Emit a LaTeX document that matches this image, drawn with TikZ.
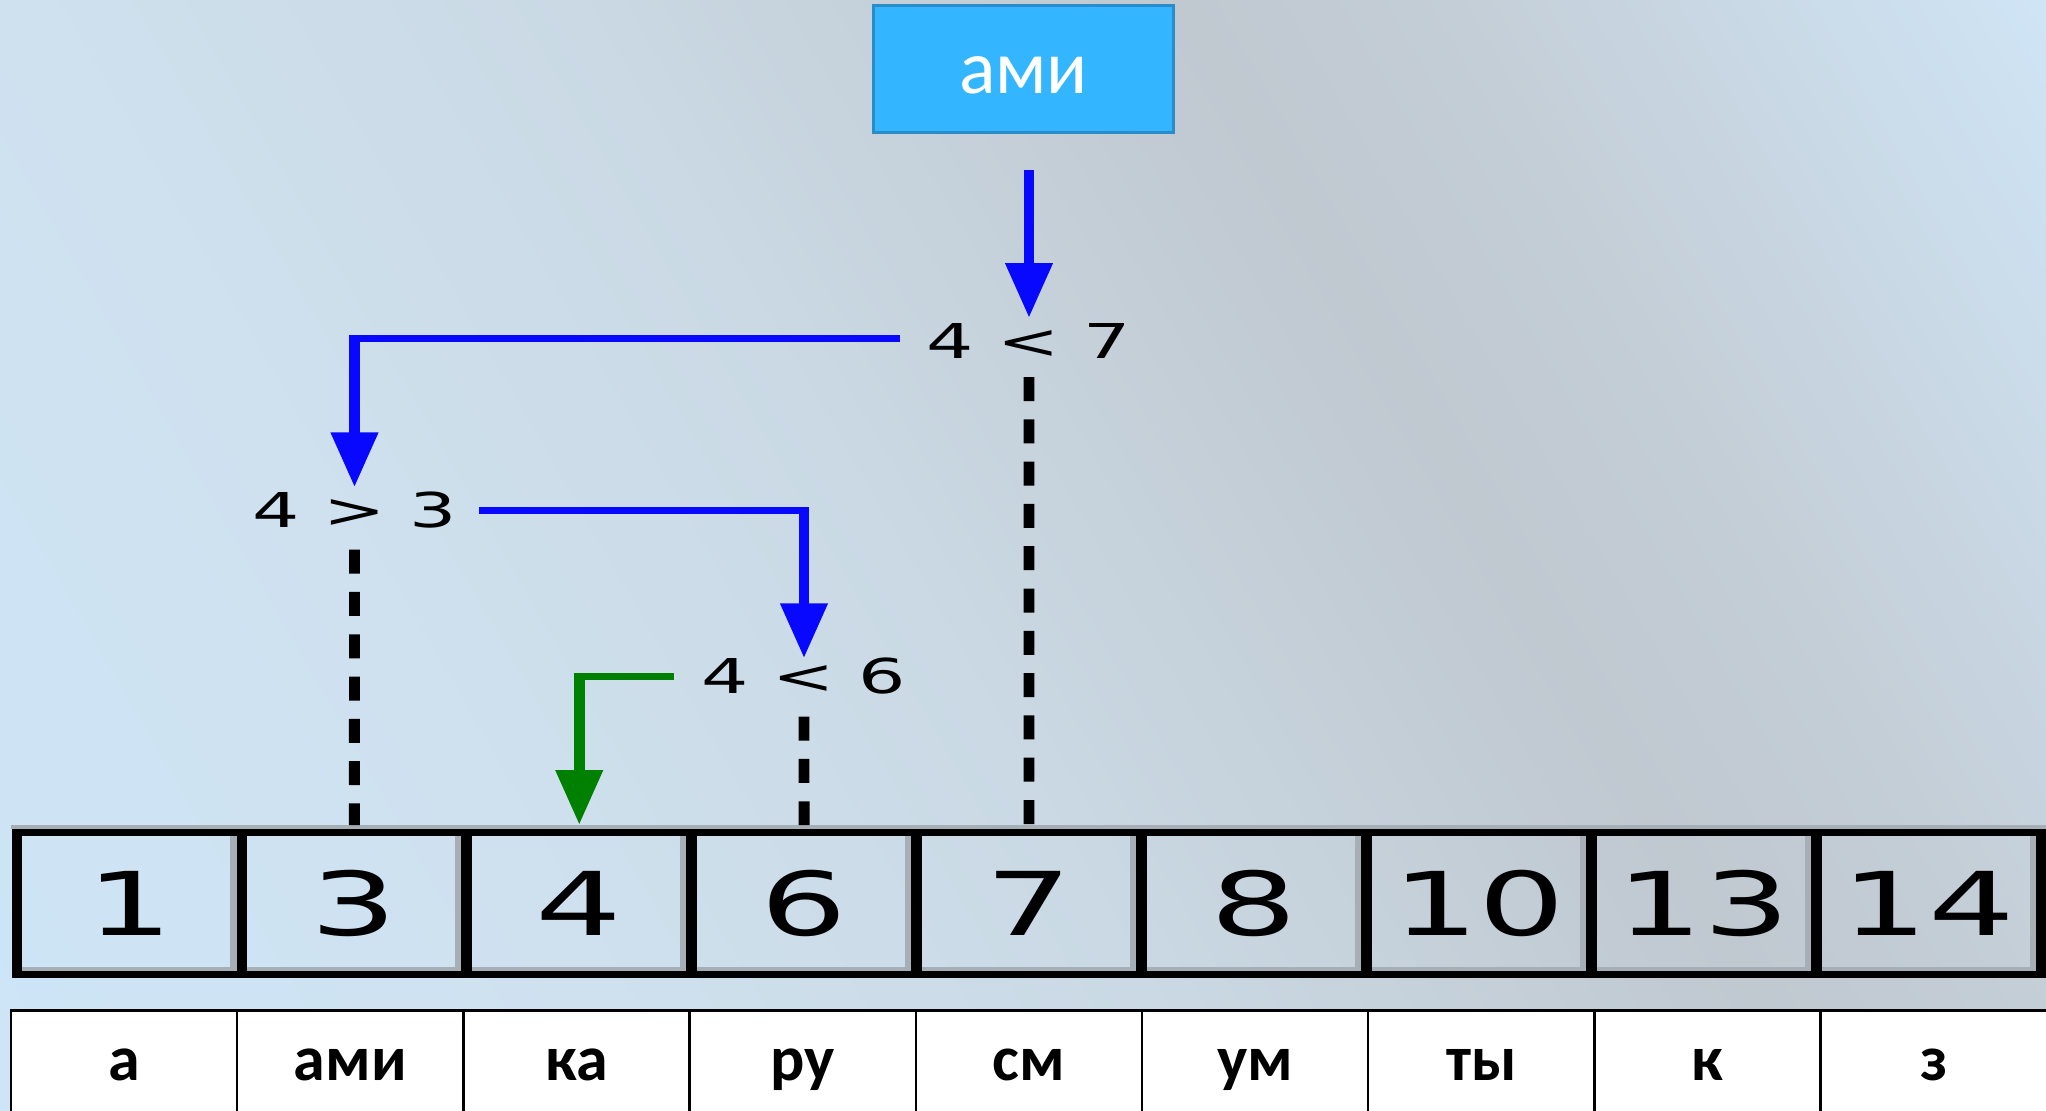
\documentclass[tikz,border=0pt]{standalone}
\usepackage{fontspec}
\usetikzlibrary{arrows.meta,calc}
\newfontfamily\numfont{DejaVu Sans}
\newfontfamily\wordfont{Carlito}

\definecolor{keyfill}{RGB}{51,182,255}
\definecolor{keyline}{RGB}{42,140,200}
\definecolor{linkblue}{RGB}{8,8,255}
\definecolor{linkgreen}{RGB}{0,128,0}
\definecolor{bevelgrey}{RGB}{166,174,182}
\definecolor{bgA}{RGB}{205,229,247}
\definecolor{bgB}{RGB}{207,225,239}
\definecolor{bgC}{RGB}{202,217,228}
\definecolor{bgD}{RGB}{192,200,208}
\definecolor{bgE}{RGB}{196,206,215}
\definecolor{bgF}{RGB}{207,228,245}

% diagonal backdrop: light blue, grey band, light blue again
\pgfdeclarehorizontalshading{backdrop}{100bp}{color(0bp)=(bgA); color(25.75bp)=(bgA); color(37.3bp)=(bgB); color(47.6bp)=(bgC); color(58.7bp)=(bgD); color(63.6bp)=(bgE); color(74.2bp)=(bgF); color(100bp)=(bgF)}

\begin{document}
\begin{tikzpicture}[x=1pt, y=-1pt,
  keybox/.style={fill=keyfill, draw=keyline, line width=2.7pt, minimum width=299.6pt,
    minimum height=127pt, inner sep=0pt, text=white, text height=60pt, text depth=11pt,
    font=\wordfont\fontsize{76}{90}\selectfont},
  word/.style={draw=black, fill=white, line width=2.3pt, minimum width=226.2pt, inner sep=0pt,
    outer sep=0pt, anchor=north, text height=69.5pt, text depth=140pt,
    font=\wordfont\bfseries\fontsize{64}{76}\selectfont},
  cmp/.style={inner sep=0pt, outer sep=0pt, font=\numfont\fontsize{48}{58}\selectfont},
  cell/.style={draw=black, line width=7pt, minimum width=145.1pt, minimum height=141.5pt,
    inner sep=0pt, outer sep=0pt, font=\numfont\fontsize{88}{100}\selectfont},
  link/.style={draw=linkblue, line width=7pt, -{Triangle[width=29pt,length=55pt]}},
  hint/.style={draw=black, line width=7pt, dash pattern=on 24pt off 18.3pt},
  bevel/.style={draw=bevelgrey, line width=4pt}]

\useasboundingbox (0,0) rectangle (2046,1111);

\begin{scope}
  \clip (0,0) rectangle (2046,1111);
  \shade[shading=backdrop, shading angle=30] (-177,-644.5) rectangle (2223,1755.5);
\end{scope}

% key being searched
\node[keybox] (key) at (1023.5,68.8) {ами};

% search steps over the sorted keys (horizontally stretched drawing)
\begin{scope}[transform canvas={xscale=1.55}, x=0.645161pt]
  \foreach \v [count=\i] in {1,3,4,6,7,8,10,13,14}
    \node[cell] (n\i) at ({17+224.9*(\i-0.5)},903.25) {\v};

  \foreach \i in {1,...,9}
    \draw[bevel] ($(n\i.south west)+(5.5,-5)$) -- ($(n\i.south east)+(-8.5,-5)$)
      -- ($(n\i.north east)+(-8.5,3.5)$);
  \draw[bevel] ($(n1.north west)+(-5.5,-5.5)$) -- ($(n9.north east)+(5.5,-5.5)$);

  \node[cmp] (c47) at (1029,340.5) {4 < 7};
  \node[cmp] (c43) at (354.5,510.5) {4 > 3};
  \node[cmp] (c46) at (804,676.5) {4 < 6};
  \coordinate (feed) at (1029,170);

  \draw[link, shorten >=5pt] (feed) -- (c47);
  \draw[link, shorten <=17.4pt, shorten >=5pt] ([yshift=2pt]c47.west) -| (c43);
  \draw[link, shorten <=14.5pt] (c43.east) -| (c46);
  \draw[link, draw=linkgreen, shorten <=18.1pt, shorten >=7.5pt] (c46.west) -| (n3);

  \draw[hint, shorten <=21pt, shorten >=7.5pt] (c43) -- (n2);
  \draw[hint, shorten <=22pt, shorten >=7.5pt] (c46) -- (n4);
  \draw[hint, shorten <=19pt, shorten >=7.5pt] (c47) -- (n5);
\end{scope}

% values stored with the keys
\begin{scope}
  \clip (0,0) rectangle (2046,1111);
  \foreach \w [count=\i] in {а,ами,ка,ру,см,ум,ты,к,з}
    \node[word] (w\i) at ({11+226.2*(\i-0.5)},1010.5) {\w};
\end{scope}
\end{tikzpicture}
\end{document}
